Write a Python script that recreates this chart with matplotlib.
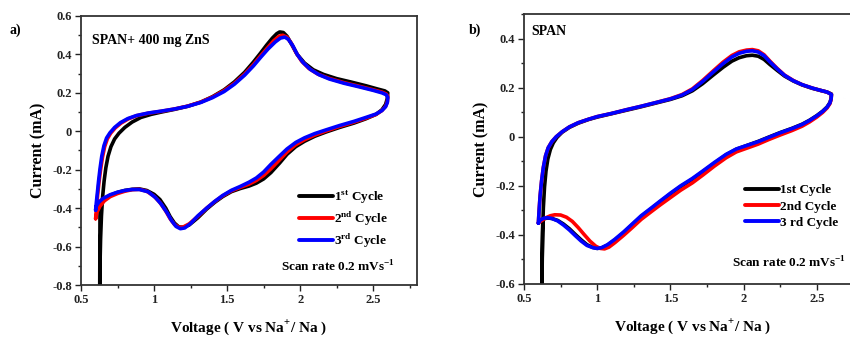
import matplotlib
matplotlib.use("Agg")
import matplotlib.pyplot as plt
from matplotlib.ticker import MultipleLocator, AutoMinorLocator, FuncFormatter

plt.rcParams['font.family'] = ['Liberation Serif', 'DejaVu Serif']
plt.rcParams['font.weight'] = 'bold'
plt.rcParams['mathtext.fontset'] = 'custom'
plt.rcParams['mathtext.rm'] = 'Liberation Serif:bold'
plt.rcParams['mathtext.bf'] = 'Liberation Serif:bold'

# ---------------- Panel a: SPAN + 400 mg ZnS ----------------
a_c3_v = [0.600, 0.605, 0.612, 0.620, 0.630, 0.642, 0.657, 0.675, 0.698, 0.73, 0.77, 0.82, 0.88, 0.96,
          1.05, 1.14, 1.23, 1.32, 1.40, 1.48, 1.55, 1.62, 1.68, 1.73, 1.78, 1.83, 1.865, 1.895, 1.92,
          1.95, 1.98, 2.02, 2.07, 2.13, 2.20, 2.30, 2.40, 2.50, 2.56, 2.59, 2.600,
          2.597, 2.585, 2.56, 2.52, 2.45, 2.37, 2.27, 2.18, 2.10, 2.03, 1.97, 1.91, 1.86, 1.80, 1.75,
          1.70, 1.65, 1.59, 1.53, 1.47, 1.415, 1.36, 1.30, 1.25, 1.21, 1.18, 1.15, 1.12, 1.09, 1.05,
          1.01, 0.96, 0.90, 0.85, 0.80, 0.75, 0.70, 0.65, 0.62, 0.605, 0.600]
a_c3_i = [-0.410, -0.370, -0.320, -0.260, -0.195, -0.130, -0.075, -0.035, -0.008, 0.020, 0.045, 0.066, 0.082, 0.095,
          0.105, 0.116, 0.130, 0.150, 0.175, 0.207, 0.245, 0.292, 0.340, 0.385, 0.428, 0.465, 0.485, 0.490, 0.478,
          0.445, 0.400, 0.358, 0.322, 0.294, 0.272, 0.250, 0.232, 0.213, 0.200, 0.190, 0.175,
          0.150, 0.128, 0.108, 0.090, 0.072, 0.052, 0.030, 0.008, -0.012, -0.034, -0.058, -0.092, -0.128, -0.172, -0.212,
          -0.243, -0.265, -0.287, -0.307, -0.334, -0.365, -0.400, -0.440, -0.480, -0.503, -0.507, -0.495, -0.465, -0.425, -0.380,
          -0.345, -0.315, -0.303, -0.303, -0.308, -0.317, -0.330, -0.350, -0.370, -0.390, -0.410]

a_c2_v = [0.600, 0.606, 0.614, 0.623, 0.634, 0.647, 0.662, 0.680, 0.703, 0.735, 0.775, 0.825, 0.88, 0.96,
          1.05, 1.14, 1.23, 1.32, 1.40, 1.48, 1.55, 1.62, 1.68, 1.73, 1.78, 1.82, 1.855, 1.88, 1.91,
          1.94, 1.97, 2.01, 2.06, 2.12, 2.20, 2.30, 2.40, 2.50, 2.56, 2.59, 2.600,
          2.597, 2.585, 2.56, 2.52, 2.45, 2.37, 2.27, 2.18, 2.10, 2.03, 1.97, 1.91, 1.86, 1.80, 1.75,
          1.70, 1.65, 1.59, 1.53, 1.47, 1.415, 1.36, 1.30, 1.24, 1.20, 1.17, 1.14, 1.11, 1.08, 1.04,
          1.00, 0.95, 0.90, 0.85, 0.80, 0.75, 0.70, 0.66, 0.63, 0.61, 0.600]
a_c2_i = [-0.455, -0.400, -0.330, -0.265, -0.200, -0.135, -0.080, -0.040, -0.010, 0.018, 0.043, 0.065, 0.081, 0.094,
          0.104, 0.116, 0.131, 0.152, 0.178, 0.212, 0.250, 0.298, 0.347, 0.393, 0.437, 0.472, 0.494, 0.500, 0.490,
          0.458, 0.412, 0.365, 0.327, 0.298, 0.275, 0.253, 0.235, 0.216, 0.204, 0.194, 0.182,
          0.155, 0.130, 0.108, 0.088, 0.068, 0.048, 0.025, 0.002, -0.020, -0.044, -0.070, -0.108, -0.148, -0.195, -0.230,
          -0.256, -0.275, -0.292, -0.310, -0.336, -0.366, -0.400, -0.443, -0.482, -0.498, -0.500, -0.485, -0.455, -0.415, -0.370,
          -0.338, -0.312, -0.302, -0.304, -0.312, -0.324, -0.340, -0.362, -0.390, -0.420, -0.455]

a_c1_v = [0.628, 0.630, 0.634, 0.640, 0.648, 0.658, 0.670, 0.685, 0.705, 0.73, 0.76, 0.80, 0.85, 0.91, 0.98,
          1.05, 1.14, 1.23, 1.32, 1.40, 1.48, 1.55, 1.62, 1.68, 1.73, 1.77, 1.81, 1.84, 1.86, 1.885,
          1.91, 1.94, 1.98, 2.03, 2.09, 2.16, 2.25, 2.35, 2.45, 2.53, 2.58, 2.600,
          2.597, 2.585, 2.56, 2.52, 2.45, 2.37, 2.27, 2.18, 2.10, 2.03, 1.97, 1.91, 1.86, 1.80, 1.75,
          1.70, 1.65, 1.59, 1.53, 1.47, 1.415, 1.36, 1.30, 1.24, 1.20, 1.17, 1.14, 1.11, 1.08, 1.04,
          1.00, 0.95, 0.90, 0.85, 0.80, 0.75, 0.70, 0.66, 0.64, 0.630, 0.628]
a_c1_i = [-0.850, -0.700, -0.560, -0.440, -0.340, -0.260, -0.190, -0.130, -0.080, -0.040, -0.010, 0.020, 0.048, 0.072, 0.088,
          0.100, 0.114, 0.130, 0.152, 0.180, 0.216, 0.257, 0.307, 0.360, 0.408, 0.448, 0.485, 0.508, 0.517, 0.514,
          0.495, 0.455, 0.400, 0.355, 0.320, 0.296, 0.274, 0.256, 0.237, 0.220, 0.210, 0.200,
          0.172, 0.140, 0.112, 0.088, 0.065, 0.043, 0.020, -0.003, -0.026, -0.052, -0.080, -0.120, -0.165, -0.215, -0.248,
          -0.270, -0.285, -0.298, -0.314, -0.340, -0.370, -0.405, -0.450, -0.488, -0.500, -0.498, -0.478, -0.444, -0.400, -0.355,
          -0.328, -0.308, -0.300, -0.302, -0.308, -0.318, -0.333, -0.352, -0.375, -0.395, -0.850]

# ---------------- Panel b: SPAN ----------------
b_c3_v = [0.598, 0.603, 0.610, 0.620, 0.632, 0.647, 0.665, 0.690, 0.72, 0.76, 0.81, 0.87, 0.94, 1.00,
          1.10, 1.20, 1.30, 1.40, 1.50, 1.58, 1.65, 1.72, 1.79, 1.86, 1.92, 1.97, 2.02, 2.06, 2.10,
          2.14, 2.18, 2.23, 2.28, 2.34, 2.40, 2.47, 2.53, 2.57, 2.600,
          2.598, 2.59, 2.57, 2.54, 2.50, 2.45, 2.40, 2.33, 2.25, 2.17, 2.10, 2.03, 1.95, 1.88, 1.80,
          1.72, 1.65, 1.57, 1.50, 1.43, 1.37, 1.30, 1.24, 1.18, 1.12, 1.07, 1.03, 1.00, 0.97, 0.93,
          0.89, 0.85, 0.81, 0.77, 0.73, 0.69, 0.66, 0.635, 0.615, 0.603, 0.598]
b_c3_i = [-0.352, -0.300, -0.240, -0.180, -0.125, -0.078, -0.045, -0.020, 0.000, 0.020, 0.040, 0.057, 0.071, 0.082,
          0.095, 0.110, 0.124, 0.139, 0.154, 0.170, 0.192, 0.225, 0.262, 0.298, 0.325, 0.340, 0.348, 0.350, 0.345,
          0.330, 0.305, 0.276, 0.250, 0.228, 0.212, 0.198, 0.188, 0.182, 0.172,
          0.155, 0.138, 0.120, 0.103, 0.085, 0.066, 0.050, 0.033, 0.016, -0.003, -0.020, -0.034, -0.050, -0.072, -0.105,
          -0.140, -0.170, -0.200, -0.230, -0.262, -0.290, -0.322, -0.355, -0.388, -0.418, -0.440, -0.452, -0.455, -0.452, -0.443,
          -0.425, -0.403, -0.380, -0.360, -0.343, -0.333, -0.330, -0.332, -0.338, -0.345, -0.352]

b_c2_v = [0.598, 0.603, 0.610, 0.620, 0.632, 0.647, 0.665, 0.690, 0.72, 0.76, 0.81, 0.87, 0.94, 1.00,
          1.10, 1.20, 1.30, 1.40, 1.50, 1.58, 1.65, 1.72, 1.79, 1.86, 1.92, 1.97, 2.02, 2.06, 2.10,
          2.14, 2.18, 2.23, 2.28, 2.34, 2.40, 2.47, 2.53, 2.57, 2.600,
          2.598, 2.59, 2.57, 2.54, 2.50, 2.45, 2.40, 2.33, 2.25, 2.17, 2.10, 2.03, 1.95, 1.88, 1.80,
          1.72, 1.65, 1.57, 1.50, 1.43, 1.37, 1.30, 1.24, 1.18, 1.12, 1.08, 1.05, 1.02, 0.99, 0.95,
          0.91, 0.87, 0.83, 0.79, 0.75, 0.71, 0.68, 0.65, 0.625, 0.608, 0.598]
b_c2_i = [-0.352, -0.300, -0.240, -0.180, -0.125, -0.078, -0.045, -0.020, 0.000, 0.020, 0.040, 0.057, 0.071, 0.082,
          0.095, 0.110, 0.124, 0.139, 0.155, 0.172, 0.195, 0.229, 0.267, 0.304, 0.331, 0.346, 0.353, 0.355, 0.350,
          0.334, 0.308, 0.278, 0.251, 0.229, 0.212, 0.198, 0.188, 0.182, 0.172,
          0.153, 0.135, 0.117, 0.099, 0.080, 0.060, 0.043, 0.025, 0.007, -0.012, -0.030, -0.045, -0.062, -0.086, -0.120,
          -0.157, -0.188, -0.218, -0.248, -0.278, -0.305, -0.337, -0.370, -0.402, -0.432, -0.450, -0.457, -0.455, -0.446, -0.425,
          -0.398, -0.370, -0.345, -0.328, -0.319, -0.318, -0.322, -0.330, -0.340, -0.347, -0.352]

b_c1_v = [0.622, 0.624, 0.627, 0.632, 0.640, 0.650, 0.663, 0.680, 0.70, 0.725, 0.76, 0.81, 0.87, 0.94, 1.00,
          1.10, 1.20, 1.30, 1.40, 1.50, 1.58, 1.65, 1.72, 1.79, 1.86, 1.92, 1.97, 2.02, 2.06, 2.10,
          2.14, 2.18, 2.23, 2.28, 2.34, 2.40, 2.47, 2.53, 2.57, 2.600,
          2.598, 2.59, 2.57, 2.54, 2.50, 2.45, 2.40, 2.33, 2.25, 2.17, 2.10, 2.03, 1.95, 1.88, 1.80,
          1.72, 1.65, 1.57, 1.50, 1.43, 1.37, 1.30, 1.24, 1.18, 1.12, 1.07, 1.03, 1.00, 0.97, 0.93,
          0.89, 0.85, 0.81, 0.77, 0.73, 0.69, 0.66, 0.64, 0.628, 0.622]
b_c1_i = [-0.620, -0.500, -0.390, -0.290, -0.205, -0.140, -0.090, -0.052, -0.025, -0.003, 0.018, 0.038, 0.055, 0.070, 0.080,
          0.094, 0.108, 0.122, 0.137, 0.152, 0.167, 0.187, 0.216, 0.250, 0.283, 0.308, 0.322, 0.330, 0.332, 0.328,
          0.315, 0.294, 0.270, 0.247, 0.227, 0.211, 0.197, 0.188, 0.182, 0.174,
          0.156, 0.139, 0.121, 0.104, 0.086, 0.067, 0.051, 0.034, 0.017, -0.002, -0.019, -0.034, -0.051, -0.074, -0.108,
          -0.143, -0.173, -0.203, -0.233, -0.265, -0.293, -0.325, -0.358, -0.391, -0.421, -0.442, -0.453, -0.455, -0.451, -0.440,
          -0.420, -0.398, -0.375, -0.356, -0.341, -0.333, -0.331, -0.334, -0.338, -0.620]

colors = ['black', '#ff0000', '#0000ff']
labels_a = [r'1$^{\mathrm{st}}$ Cycle', r'2$^{\mathrm{nd}}$ Cycle', r'3$^{\mathrm{rd}}$ Cycle']
labels_b = ['1st Cycle', '2nd Cycle', '3 rd Cycle']

fig = plt.figure(figsize=(8.5, 3.38), dpi=100)
axa = fig.add_axes([0.0953, 0.1568, 0.3953, 0.7959])
axb = fig.add_axes([0.6165, 0.1598, 0.3961, 0.7988])

lw = 2.6
for v, i, c, l in zip([a_c1_v, a_c2_v, a_c3_v], [a_c1_i, a_c2_i, a_c3_i], colors, labels_a):
    axa.plot(v, i, color=c, lw=lw, label=l, solid_joinstyle='round', solid_capstyle='round')
for v, i, c, l in zip([b_c1_v, b_c2_v, b_c3_v], [b_c1_i, b_c2_i, b_c3_i], colors, labels_b):
    axb.plot(v, i, color=c, lw=lw, label=l, solid_joinstyle='round', solid_capstyle='round')


def style(ax, ylim, ymaj):
    ax.set_xlim(0.5, 2.8)
    ax.set_ylim(*ylim)
    ax.xaxis.set_major_locator(MultipleLocator(0.5))
    ax.xaxis.set_minor_locator(AutoMinorLocator(2))
    ax.yaxis.set_major_locator(MultipleLocator(ymaj))
    ax.yaxis.set_minor_locator(AutoMinorLocator(2))
    ax.tick_params(which='both', direction='out', top=False, right=False, labelsize=9, width=1.0,
                   colors='#222222')
    ax.tick_params(which='major', length=4, pad=2.5)
    ax.tick_params(which='minor', length=2.5)
    for s in ax.spines.values():
        s.set_linewidth(1.3)
        s.set_color('#333333')
    ax.set_xlabel(r'Voltage ( V vs Na$^{+}$/ Na )', fontsize=11, fontweight='bold', labelpad=9)
    ax.set_ylabel('Current (mA)', fontsize=11.5, fontweight='bold', labelpad=4)
    ax.xaxis.set_major_formatter(FuncFormatter(lambda x, p: ('%g' % x)))
    ax.yaxis.set_major_formatter(FuncFormatter(lambda x, p: ('%g' % round(x, 2))))


style(axa, (-0.8, 0.6), 0.2)
style(axb, (-0.6, 0.5), 0.2)

axa.text(0.575, 0.47, 'SPAN+ 400 mg ZnS', fontsize=10, fontweight='bold', va='center', ha='left')
axb.text(0.55, 0.43, 'SPAN', fontsize=10, fontweight='bold', va='center', ha='left')

axa.text(1.87, -0.708, r'Scan rate 0.2 mVs$^{-1}$', fontsize=9.5, fontweight='bold', va='center', ha='left')
axb.text(1.92, -0.514, r'Scan rate 0.2 mVs$^{-1}$', fontsize=9.5, fontweight='bold', va='center', ha='left')

leg_kw = dict(frameon=False, fontsize=9.5, handlelength=2.6, handletextpad=0.1,
              labelspacing=0.3, borderpad=0, borderaxespad=0, loc='upper left')
leg_a = axa.legend(bbox_to_anchor=(0.648, 0.36), **leg_kw)
leg_b = axb.legend(bbox_to_anchor=(0.655, 0.37), **leg_kw)
for leg in (leg_a, leg_b):
    for t in leg.get_texts():
        t.set_fontweight('bold')
    for h in leg.get_lines():
        h.set_linewidth(2.8)

fig.text(10 / 850, 1 - 30 / 338, 'a)', fontsize=10, fontweight='bold', va='center')
fig.text(469 / 850, 1 - 30 / 338, 'b)', fontsize=10, fontweight='bold', va='center')

fig.savefig('out.png', dpi=100)
